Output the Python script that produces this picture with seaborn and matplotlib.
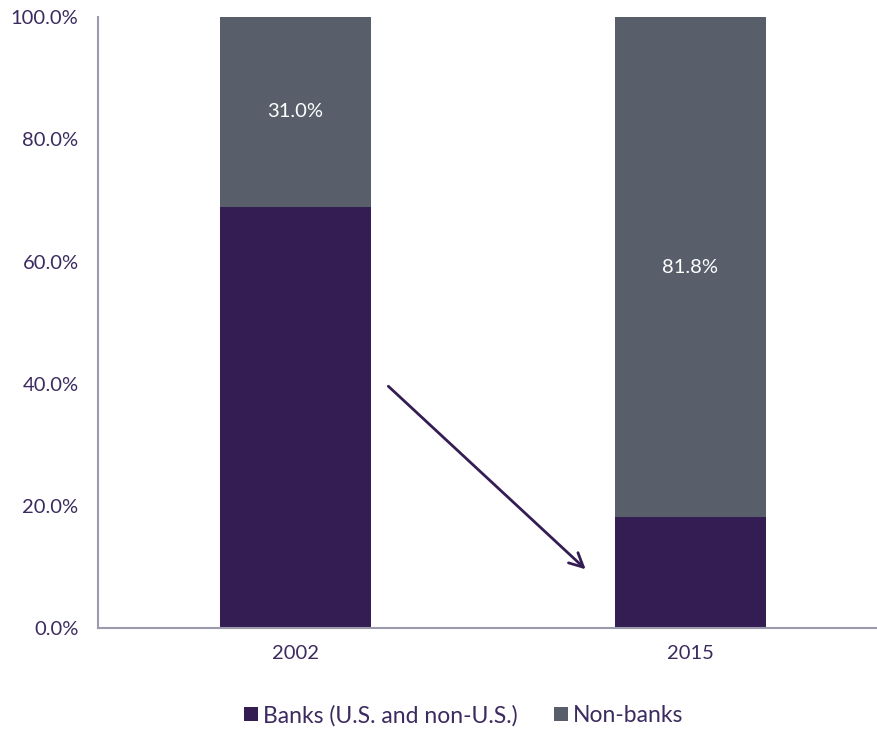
import pandas as pd
import numpy as np
import matplotlib.pyplot as plt
import seaborn as sns

# data
years = ["2002", "2015"]
banks = [69.0, 18.2]
non_banks = [31.0, 81.8]

# arrow annotation (data coordinates)
arrow_start = (0.23, 39.9)
arrow_end = (0.74, 9.3)

text_color = "#3b2b5e"
bank_color = "#341d52"
nonbank_color = "#585f6b"
spine_color = "#9c9aad"

sns.set_style("white")
plt.rcParams["font.family"] = ["Lato", "DejaVu Sans"]

df = pd.DataFrame({"year": years, "banks": banks, "non_banks": non_banks})
df["total"] = df["banks"] + df["non_banks"]

fig = plt.figure(figsize=(8.78, 7.53), dpi=100)
ax = fig.add_axes([0.1116, 0.166, 0.8884, 0.811])

sns.barplot(data=df, x="year", y="total", color=nonbank_color, width=0.382,
            saturation=1, ax=ax, label="Non-banks")
sns.barplot(data=df, x="year", y="banks", color=bank_color, width=0.382,
            saturation=1, ax=ax, label="Banks (U.S. and non-U.S.)")

for p in ax.patches:
    p.set_edgecolor("none")

for i, (b, n) in enumerate(zip(banks, non_banks)):
    ax.text(i, b + n / 2, f"{n:.1f}%", ha="center", va="center",
            color="white", fontsize=14.5)

ax.annotate("", xy=arrow_end, xytext=arrow_start,
            arrowprops=dict(arrowstyle="->", color=bank_color, lw=2,
                            mutation_scale=25))

ax.set_xlim(-0.5, 1.475)
ax.set_ylim(0, 100)
ax.set_yticks(np.arange(0, 101, 20))
ax.set_yticklabels([f"{v:.1f}%" for v in np.arange(0, 101, 20)])
ax.set_xlabel("")
ax.set_ylabel("")
ax.tick_params(axis="both", colors=text_color, labelsize=14.5, length=0)
ax.tick_params(axis="x", pad=12)
ax.tick_params(axis="y", pad=14)
for side in ["top", "right"]:
    ax.spines[side].set_visible(False)
for side in ["left", "bottom"]:
    ax.spines[side].set_color(spine_color)
    ax.spines[side].set_linewidth(1.5)

handles, labels = ax.get_legend_handles_labels()
order = [labels.index("Banks (U.S. and non-U.S.)"), labels.index("Non-banks")]
fig.legend([handles[i] for i in order], [labels[i] for i in order],
           loc="center", bbox_to_anchor=(0.528, 0.05), ncol=2, frameon=False,
           fontsize=16.5, labelcolor=text_color, handlelength=0.6,
           handleheight=0.6, handletextpad=0.2, columnspacing=1.6)
if ax.get_legend() is not None:
    ax.get_legend().remove()

fig.savefig("out.png", dpi=100)
